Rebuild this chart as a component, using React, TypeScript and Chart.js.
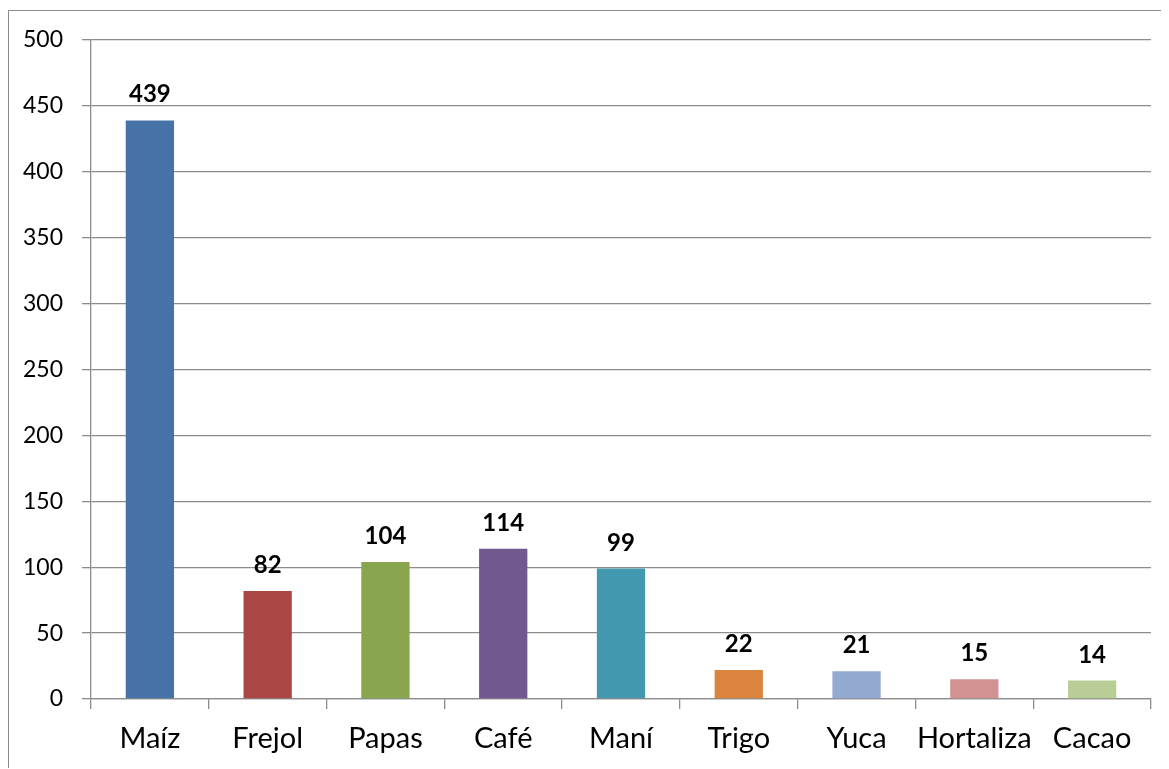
import React, { useEffect, useRef } from "react";
import { Chart, registerables } from "chart.js";

Chart.register(...registerables);

const categories = ["Maíz", "Frejol", "Papas", "Café", "Maní", "Trigo", "Yuca", "Hortaliza", "Cacao"];
const values = [439, 82, 104, 114, 99, 22, 21, 15, 14];
const barColors = ["#4672A8", "#AA4643", "#89A54E", "#71588F", "#4198AF", "#DB843D", "#93A9CF", "#D19392", "#B9CD96"];
const yMin = 0;
const yMax = 500;
const yStep = 50;

const FONT = "Lato, 'Noto Sans', sans-serif";
const GRID = "#8c8c8c";

const valueLabels = {
  id: "valueLabels",
  afterDatasetsDraw(chart: any) {
    const ctx = chart.ctx;
    const meta = chart.getDatasetMeta(0);
    ctx.save();
    ctx.font = `bold 24px ${FONT}`;
    ctx.fillStyle = "#000";
    ctx.textAlign = "center";
    ctx.textBaseline = "alphabetic";
    meta.data.forEach((bar: any, i: number) => {
      ctx.fillText(String(values[i]), bar.x, bar.y - 18);
    });
    ctx.restore();
  },
};

export default function App() {
  const ref = useRef<HTMLCanvasElement | null>(null);
  useEffect(() => {
    if (!ref.current) return;
    const chart = new Chart(ref.current, {
      type: "bar",
      data: {
        labels: categories,
        datasets: [
          {
            data: values,
            backgroundColor: barColors,
            borderWidth: 0,
            categoryPercentage: 1,
            barPercentage: 0.41,
          },
        ],
      },
      options: {
        animation: false,
        responsive: false,
        maintainAspectRatio: false,
        layout: { padding: { top: 0, right: 18, left: 0, bottom: 0 } },
        plugins: { legend: { display: false }, tooltip: { enabled: false } },
        scales: {
          y: {
            min: yMin,
            max: yMax,
            ticks: { stepSize: yStep, padding: 19, color: "#000", font: { family: FONT, size: 23 } },
            grid: { color: GRID, lineWidth: 1.3, tickLength: 9 },
            border: { color: GRID, width: 1.3 },
            afterFit: (s: any) => {
              s.width = 82;
              s.paddingTop = 29;
            },
          },
          x: {
            ticks: { padding: 12, color: "#000", font: { family: FONT, size: 29 }, maxRotation: 0, autoSkip: false },
            grid: { drawOnChartArea: false, color: GRID, lineWidth: 1.3, tickLength: 10 },
            border: { color: GRID, width: 1.3 },
            afterFit: (s: any) => {
              s.height = 69;
            },
          },
        },
      },
      plugins: [valueLabels],
    });
    return () => chart.destroy();
  }, []);
  return (
    <div
      style={{
        marginTop: 2,
        width: 1160,
        height: 757,
        borderTop: `1.5px solid ${GRID}`,
        borderLeft: `1.5px solid ${GRID}`,
        overflow: "hidden",
      }}
    >
      <canvas ref={ref} width={1160} height={757} style={{ display: "block" }} />
    </div>
  );
}
